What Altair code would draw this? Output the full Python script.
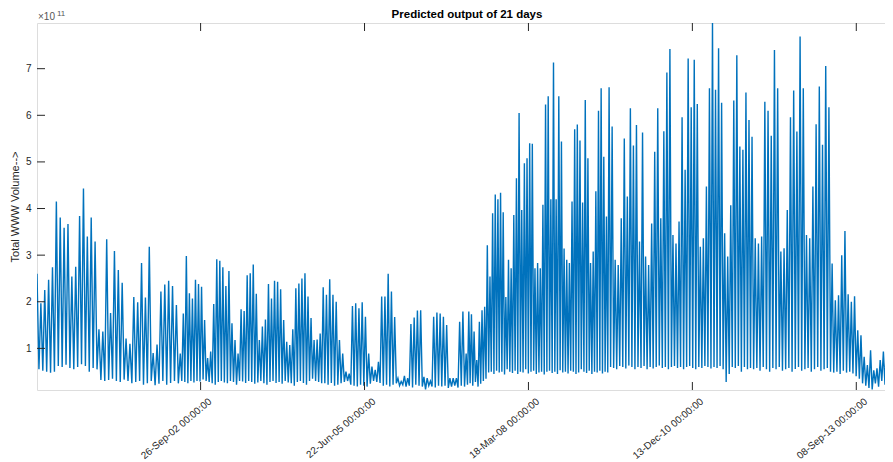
import altair as alt
import pandas as pd
import numpy as np

# segment boundaries along the time axis
seg_bounds = ["2000-01-02", "2002-05-25", "2004-10-13", "2007-03-04",
              "2009-07-23", "2011-12-12", "2014-04-20"]

# values in units of 1e11 (peak / trough of each cycle)
peaks_a = [2.6, 1.97, 2.25, 2.47, 2.74, 4.15, 3.81, 3.59, 3.67, 2.54,
           2.75, 3.84, 4.43, 3.4, 3.81, 3.29, 1.41, 1.36, 3.34, 1.76,
           3.09, 2.68, 2.41, 1.21, 1.1, 2.1, 1.99, 2.83, 2.09, 3.18,
           0.9, 1.08, 2.22, 2.37, 2.45, 2.34, 1.93]
troughs_a = [0.55, 0.52, 0.5, 0.48, 0.5, 0.62, 0.6, 0.65, 0.58, 0.55,
             0.6, 0.66, 0.62, 0.5, 0.58, 0.55, 0.32, 0.3, 0.32, 0.35,
             0.3, 0.28, 0.33, 0.3, 0.25, 0.28, 0.3, 0.22, 0.25, 0.3,
             0.21, 0.24, 0.3, 0.22, 0.26, 0.3, 0.25]

peaks_b = [0.89, 1.75, 2.98, 2.18, 2.07, 2.47, 2.38, 2.32, 1.61, 0.79,
           0.93, 1.95, 2.91, 2.88, 2.74, 2.34, 2.66, 1.54, 1.18, 0.89,
           1.84, 1.80, 2.57, 2.61, 2.80, 2.17, 1.18, 1.47, 1.62, 2.38,
           2.07, 2.45, 2.43, 2.27, 1.61, 1.14, 1.07, 1.41, 2.29, 2.39,
           2.50, 2.61, 2.11, 1.65, 1.18, 1.19, 1.32]
troughs_b = [0.3, 0.28, 0.25, 0.3, 0.27, 0.3, 0.29, 0.33, 0.3, 0.28,
             0.25, 0.22, 0.28, 0.3, 0.27, 0.25, 0.3, 0.28, 0.22, 0.3,
             0.29, 0.26, 0.3, 0.28, 0.24, 0.27, 0.3, 0.25, 0.22, 0.28,
             0.3, 0.26, 0.28, 0.24, 0.3, 0.27, 0.25, 0.2, 0.28, 0.3,
             0.26, 0.22, 0.3, 0.35, 0.3, 0.28, 0.25]

peaks_c = [2.31, 2.15, 2.48, 2.15, 2.0, 1.18, 0.89, 0.5, 0.46, 1.91,
           1.97, 1.86, 1.99, 1.68, 0.89, 0.61, 0.54, 0.71, 2.11, 2.11,
           2.6, 2.22, 1.67, 0.36, 0.29, 0.41, 0.36, 1.52, 1.66, 1.81,
           1.82, 0.39, 0.36, 0.3, 1.68, 1.77, 1.75, 1.68, 1.5, 0.36,
           0.36, 0.36, 1.57, 1.79]
troughs_c = [0.25, 0.22, 0.26, 0.2, 0.22, 0.25, 0.28, 0.3, 0.22, 0.2,
             0.18, 0.22, 0.2, 0.18, 0.24, 0.3, 0.28, 0.26, 0.2, 0.22,
             0.18, 0.22, 0.25, 0.2, 0.22, 0.18, 0.2, 0.16, 0.22, 0.2,
             0.18, 0.12, 0.2, 0.18, 0.16, 0.2, 0.18, 0.2, 0.15, 0.18,
             0.2, 0.16, 0.2, 0.18]

peaks_d = [0.89, 1.79, 1.73, 1.36, 0.75, 1.57, 1.82, 1.89, 3.21, 2.54,
           3.9, 4.3, 4.2, 4.34, 3.92, 2.1, 2.9, 2.72, 3.86, 4.65,
           6.05, 3.97, 4.97, 5.08, 5.4, 5.39, 2.72, 2.83, 2.72, 4.08,
           6.23, 6.41, 4.2, 7.13, 4.2, 6.41, 5.44, 3.14, 2.9, 2.83,
           4.15, 5.7, 5.8, 5.46, 4.13, 6.33, 5.08, 2.83, 3.08, 4.37,
           6.1, 6.58, 5.11, 3.83]
troughs_d = [0.22, 0.25, 0.2, 0.28, 0.18, 0.24, 0.3, 0.35,
             0.48, 0.5, 0.45, 0.52, 0.48, 0.5, 0.44, 0.55, 0.5, 0.47,
             0.52, 0.45, 0.5, 0.48, 0.55, 0.46, 0.5, 0.52, 0.45, 0.48,
             0.5, 0.44, 0.5, 0.52, 0.47, 0.5, 0.45, 0.53, 0.48, 0.5,
             0.46, 0.52, 0.5, 0.45, 0.48, 0.55, 0.5, 0.47, 0.52, 0.45,
             0.5, 0.48, 0.52, 0.46, 0.5, 0.48]

peaks_e = [6.6, 5.76, 2.9, 2.79, 3.79, 5.5, 4.26, 6.15, 5.35, 5.79,
           3.29, 5.63, 2.97, 2.79, 3.68, 5.22, 6.15, 3.79, 5.66, 6.92,
           7.42, 3.43, 3.25, 3.72, 5.96, 4.83, 7.22, 6.17, 7.19, 6.24,
           3.18, 3.36, 4.47, 6.58, 7.98, 6.55, 7.44, 6.27, 3.47, 2.97,
           4.07, 6.32, 7.29, 5.33, 5.26, 6.49, 5.9]
troughs_e = [0.6, 0.58, 0.55, 0.62, 0.6, 0.57, 0.63, 0.6, 0.55, 0.6,
             0.58, 0.62, 0.55, 0.6, 0.57, 0.6, 0.63, 0.58, 0.6, 0.55,
             0.6, 0.62, 0.58, 0.6, 0.55, 0.6, 0.62, 0.58, 0.55, 0.6,
             0.58, 0.62, 0.6, 0.57, 0.6, 0.58, 0.62, 0.55, 0.28, 0.45,
             0.6, 0.58, 0.62, 0.5, 0.6, 0.55, 0.58]

peaks_f = [5.54, 3.36, 3.25, 3.4, 6.29, 6.1, 5.56, 7.4, 6.58, 3.08,
           3.15, 3.97, 5.96, 6.53, 5.65, 7.69, 6.58, 3.43, 3.36, 4.47,
           5.81, 6.62, 5.37, 7.06, 6.17, 2.82, 2.03, 2.14, 3.0, 3.52,
           2.16, 2.0, 2.12, 1.39, 1.28, 0.82, 0.64, 0.96, 0.53, 0.57,
           0.75, 0.93, 1.28, 0.89]
troughs_f = [0.55, 0.58, 0.52, 0.6, 0.55, 0.5, 0.58, 0.55, 0.6, 0.52,
             0.55, 0.58, 0.5, 0.56, 0.6, 0.52, 0.55, 0.58, 0.5, 0.55,
             0.6, 0.52, 0.55, 0.58, 0.5, 0.48, 0.5, 0.45, 0.52, 0.48,
             0.5, 0.46, 0.4, 0.35, 0.25, 0.2, 0.15, 0.12, 0.25, 0.18,
             0.3, 0.22, 0.35, 0.28]

segments = [(peaks_a, troughs_a), (peaks_b, troughs_b), (peaks_c, troughs_c),
            (peaks_d, troughs_d), (peaks_e, troughs_e), (peaks_f, troughs_f)]

y_ticks = [1, 2, 3, 4, 5, 6, 7]
x_ticks = ["2002-09-26", "2005-06-22", "2008-03-18", "2010-12-13", "2013-09-08"]
title_text = "Predicted output of 21 days"
y_title = "Total WWW Volume-->"


def ms(s):
    return pd.Timestamp(s, tz="UTC").value // 10**6


ts_all, vals_all = [], []
for i, (pk, tr) in enumerate(segments):
    n = min(len(pk), len(tr))
    t0, t1 = ms(seg_bounds[i]), ms(seg_bounds[i + 1])
    ts = np.linspace(t0, t1, 2 * n, endpoint=False)
    for k in range(n):
        vals_all.append(pk[k])
        vals_all.append(tr[k])
    ts_all.extend(ts.tolist())

df = pd.DataFrame({"t": ts_all, "v": vals_all})
df_y = pd.DataFrame({"v": y_ticks})
df_x = pd.DataFrame({"t": [ms(s) for s in x_ticks]})

W, H = 856, 367
AX = "#262626"
FONT = "Liberation Sans"

x_scale = alt.Scale(type="utc", domain=[ms(seg_bounds[0]), ms(seg_bounds[-1])], nice=False)
y_scale = alt.Scale(domain=[0.107, 7.98], nice=False, zero=False)

x_axis = alt.Axis(values=[ms(s) for s in x_ticks],
                  labelExpr="utcFormat(datum.value, '%d-%b-%y 00:00:00')",
                  labelAngle=320, labelAlign="right", labelBaseline="top",
                  labelFontSize=10, labelPadding=6, labelOffset=6,
                  labelColor=AX, labelFont=FONT,
                  ticks=False, domain=False, grid=False, title=None)
y_axis = alt.Axis(values=y_ticks, format="d", labelFontSize=10, labelColor=AX,
                  labelFont=FONT, labelPadding=6, ticks=False, domain=False, grid=False,
                  title=y_title, titleFontSize=11, titleFontWeight="normal",
                  titleColor=AX, titleFont=FONT, titlePadding=5)

line = alt.Chart(df).mark_line(color="#0072BD", strokeWidth=1.4, clip=True).encode(
    x=alt.X("t:T", scale=x_scale, axis=x_axis),
    y=alt.Y("v:Q", scale=y_scale, axis=y_axis),
)

ytick_l = alt.Chart(df_y).mark_rule(color=AX, strokeWidth=1).encode(
    y=alt.Y("v:Q", scale=y_scale), x=alt.value(0), x2=alt.value(8))
ytick_r = alt.Chart(df_y).mark_rule(color=AX, strokeWidth=1).encode(
    y=alt.Y("v:Q", scale=y_scale), x=alt.value(W - 8), x2=alt.value(W))
xtick_b = alt.Chart(df_x).mark_rule(color=AX, strokeWidth=1).encode(
    x=alt.X("t:T", scale=x_scale), y=alt.value(H - 8), y2=alt.value(H))
xtick_t = alt.Chart(df_x).mark_rule(color=AX, strokeWidth=1).encode(
    x=alt.X("t:T", scale=x_scale), y=alt.value(0), y2=alt.value(8))

df_txt = pd.DataFrame({"a": ["\u00d710"], "b": ["11"], "title": [title_text]})
exp1 = alt.Chart(df_txt).mark_text(align="left", baseline="alphabetic", fontSize=10,
                                   color="#555555", font=FONT).encode(
    text="a:N", x=alt.value(1), y=alt.value(-3))
exp2 = alt.Chart(df_txt).mark_text(align="left", baseline="alphabetic", fontSize=8,
                                   color="#555555", font=FONT).encode(
    text="b:N", x=alt.value(20), y=alt.value(-7))
title = alt.Chart(df_txt).mark_text(align="center", baseline="alphabetic", fontSize=11.5,
                                    fontWeight="bold", color="#000000", font=FONT).encode(
    text="title:N", x=alt.value(430), y=alt.value(-5))

chart = alt.layer(line, ytick_l, ytick_r, xtick_b, xtick_t, exp1, exp2, title).properties(
    width=W, height=H,
    autosize=alt.AutoSizeParams(type="none"),
    padding={"left": 29, "top": 15, "right": -8, "bottom": 72},
).configure_view(stroke=AX, strokeWidth=1).configure(background="white")

chart.save("out.html", embed_options={"renderer": "svg", "actions": False})
